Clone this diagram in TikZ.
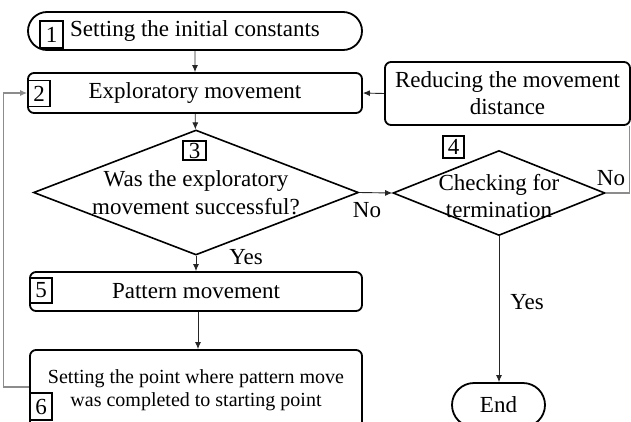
\documentclass[tikz,border=0pt]{standalone}
\usepackage{fontspec}
\setmainfont{Liberation Serif}
\usetikzlibrary{shapes.geometric,shapes.misc,arrows.meta}
\tikzset{
  base/.style={draw,line width=1.8pt,font=\fontsize{23}{27}\selectfont,align=center,inner sep=0pt},
  termbox/.style={base,rounded rectangle},
  procbox/.style={base,rounded corners=6pt},
  decbox/.style={base,diamond,line width=1.6pt},
  numbox/.style={draw,line width=1.4pt,font=\fontsize{23}{27}\selectfont,inner sep=0pt,minimum width=22pt,minimum height=25pt},
  conn/.style={line width=0.9pt,black!85,-{Latex[length=7pt,width=6pt]}},
  back/.style={line width=1.1pt,black!45},
  lbl/.style={font=\fontsize{23}{27}\selectfont},
}
\begin{document}
\begin{tikzpicture}[x=1pt,y=-1pt]
    \path[use as bounding box,clip] (0,0) rectangle (631,421);

    % main boxes
    \node[termbox,minimum width=334pt,minimum height=38pt] (start) at (195,31) {Setting the initial constants};
    \node[procbox,minimum width=334pt,minimum height=40pt] (explore) at (195,93) {Exploratory movement};
    \node[decbox,minimum width=325pt,minimum height=125pt,
          label={[lbl,align=center,font=\fontsize{23}{28}\selectfont]center:{Was the exploratory\\movement successful?}}] (succ) at (196,192.5) {};
    \node[procbox,minimum width=245pt,minimum height=63pt] (reduce) at (507.5,93.5) {Reducing the movement\\distance};
    \node[decbox,minimum width=212pt,minimum height=85pt,
          label={[lbl,align=center,yshift=-3pt]center:{Checking for\\termination}}] (check) at (499,193) {};
    \node[procbox,minimum width=332pt,minimum height=39pt] (pattern) at (196,291.5) {Pattern movement};
    \node[procbox,minimum width=332pt,minimum height=80pt,font=\fontsize{20}{23}\selectfont] (setpt) at (196,390) {Setting the point where pattern move\\was completed to starting point};
    \node[termbox,minimum width=93pt,minimum height=44pt] (end) at (498.5,405) {End};

    % step numbers
    \node[numbox,minimum width=23pt,minimum height=27pt] (n1) at (51.5,34.5) {1};
    \node[numbox,minimum height=26pt] (n2) at (39,93.5) {2};
    \node[numbox,minimum width=23pt,minimum height=19pt] (n3) at (194.5,150.5) {3};
    \node[numbox,minimum width=21pt,minimum height=22pt] (n4) at (453.5,147) {4};
    \node[numbox] (n5) at (41,290.5) {5};
    \node[numbox,minimum height=27pt] (n6) at (41,406.5) {6};

    % connectors
    \draw[conn] (start) -- (explore);
    \draw[conn] (explore) -- (succ);
    \draw[conn] (succ.east) -- (check.west);
    \draw[conn] (succ.south) -- (pattern.north -| succ.south);
    \draw[conn] ([xshift=2pt]pattern.south) -- ([xshift=2pt]setpt.north);
    \draw[conn] (check.south) -- (end.north -| check.south);
    \draw[conn] (reduce.west) -- (explore.east);
    \draw[back] (check.east) -| ([xshift=-1.5pt]reduce.south east);
    \draw[back,-{Latex[length=7pt,width=6pt]}] ([yshift=3pt]setpt.west) -- ++(-26,0) |- (explore.west);

    % branch labels
    \node[lbl] (no1) at (367,210) {No};
    \node[lbl] (yes1) at (246,257) {Yes};
    \node[lbl] (no2) at (611,178) {No};
    \node[lbl] (yes2) at (527,302) {Yes};
\end{tikzpicture}
\end{document}
